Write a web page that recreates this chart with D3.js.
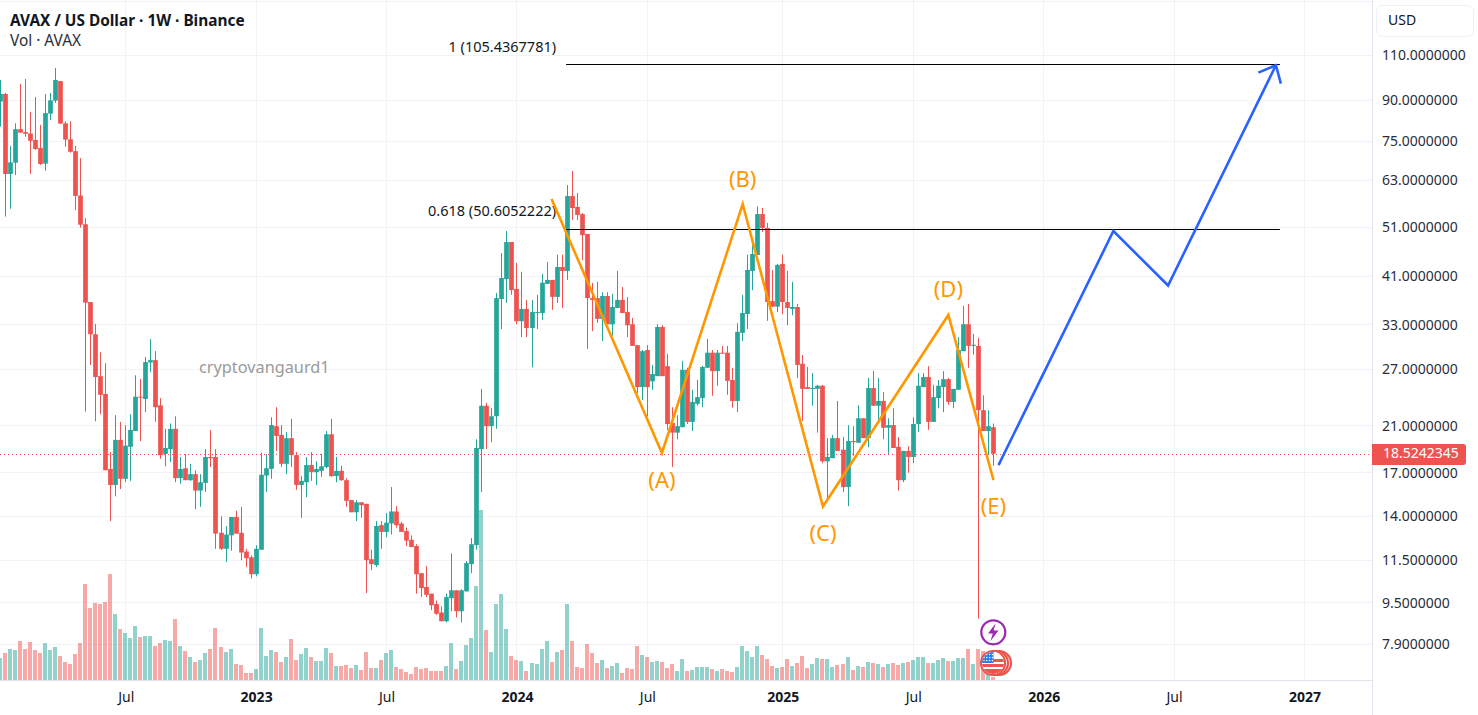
<!DOCTYPE html>
<html><head><meta charset="utf-8">
<script src="https://cdn.jsdelivr.net/npm/d3@7"></script>
<style>
html,body{margin:0;padding:0;background:#fff;overflow:hidden}
svg{display:block;font-family:"Noto Sans",sans-serif}
</style></head><body>
<svg id="c" width="1478" height="715"></svg>
<script>
const opens=[89.5,92.6,64.75,68.1,79.1,78.1,77.6,75.4,72.7,67.8,
84.8,89.9,98.1,81.2,75.6,71.7,58.8,51.7,36.5,31.6,
26.2,24.2,17.3,16.1,19.7,16.55,19.1,20.5,23.9,23.65,
27.85,28.15,23.0,18.5,18.9,20.7,16.6,17.35,16.45,16.9,
15.7,16.25,18.25,18.25,13.0,12.1,12.85,13.95,13.0,11.95,
11.65,10.8,12.05,16.8,17.3,20.95,20.15,17.7,19.85,18.4,
16.1,16.3,17.6,17.05,17.15,17.45,20.2,16.75,17.15,16.45,
15.05,14.25,14.9,14.8,11.55,11.25,13.45,13.05,13.55,14.3,
13.55,13.1,12.6,12.25,10.85,10.2,9.9,9.45,9.1,8.75,
9.7,10.05,9.15,10.0,11.3,12.3,18.9,22.95,20.95,21.9,
37.0,40.45,47.75,38.7,33.5,35.4,32.5,34.75,34.75,39.6,
40.3,37.35,42.7,41.95,58.65,55.85,54.1,49.5,37.15,37.15,
33.85,37.5,33.05,35.55,36.85,34.9,33.05,30.1,24.95,29.45,
25.6,26.2,32.65,27.4,21.25,20.35,20.85,26.95,21.35,23.15,
23.75,27.2,29.1,26.8,29.1,29.1,25.75,23.45,31.8,34.6,
41.95,45.05,54.1,50.85,36.65,35.75,43.3,36.5,35.4,35.7,
27.7,24.95,24.75,24.75,25.1,17.9,18.15,19.85,18.85,15.95,
19.6,19.45,21.7,19.85,24.85,22.95,23.45,20.8,21.05,19.1,
16.45,18.75,18.25,21.15,24.95,26.1,21.35,23.75,24.95,25.85,
23.35,24.65,29.3,33.05,30.0,30.0,22.5,20.5,20.85];
const closes=[92.6,64.75,68.2,79.1,77.9,77.5,75.1,72.4,67.7,85.0,
90.0,98.6,81.1,75.5,71.5,58.7,51.6,36.4,31.6,26.1,
24.1,17.2,16.1,19.7,16.55,19.2,20.6,23.9,23.8,27.9,
28.15,22.8,18.4,19.0,20.7,16.6,17.3,16.45,16.9,15.7,
16.3,18.25,18.15,12.95,12.1,12.9,13.95,12.95,11.9,11.6,
10.8,12.1,16.85,17.35,21.05,20.05,17.7,19.85,18.4,16.1,
16.4,17.6,17.05,17.3,17.5,20.2,16.75,17.15,16.45,15.0,
14.25,14.9,14.7,11.5,11.3,13.4,13.05,13.6,14.3,13.45,
13.05,12.55,12.2,10.8,10.15,9.85,9.4,9.05,8.75,9.75,
10.05,9.15,10.05,11.35,12.35,19.0,22.95,20.95,21.9,37.15,
40.65,47.75,38.5,33.5,35.4,32.5,34.9,34.9,39.8,40.3,
37.35,42.7,41.95,58.65,55.6,53.9,49.25,37.15,36.85,33.85,
37.5,33.05,35.7,36.85,34.75,32.9,30.0,24.95,29.3,24.95,
26.45,32.65,26.2,21.15,20.35,20.95,26.95,21.35,23.35,23.85,
27.3,29.1,26.8,29.1,29.0,25.65,23.45,31.95,34.75,42.15,
45.25,54.1,50.85,36.5,35.75,43.1,36.5,35.55,35.7,27.55,
24.75,24.75,24.85,25.1,17.9,18.25,19.85,18.75,15.95,19.6,
19.5,21.7,19.85,24.85,22.95,23.45,20.8,21.05,19.0,16.45,
18.75,18.25,21.15,25.1,26.1,21.35,23.85,25.1,25.85,23.35,
24.75,29.45,33.05,30.0,30.15,22.5,20.5,20.95,18.5242345];
const highs=[98.6,93.0,73.4,81.2,96.8,99.0,85.5,91.4,80.6,92.6,
93.0,104.0,98.1,81.95,81.9,73.4,69.5,53.1,36.5,33.1,
29.15,27.75,18.66,22.0,21.35,21.05,22.1,26.3,25.85,28.55,
30.9,29.3,23.75,20.7,21.2,21.9,18.25,18.5,17.7,17.2,
16.9,18.9,20.6,18.9,14.0,13.4,13.95,14.35,14.6,12.1,
11.75,12.3,18.6,18.5,21.8,22.8,21.05,20.4,21.65,18.65,
16.75,18.25,18.65,17.9,18.5,20.5,21.65,18.25,17.55,16.6,
15.05,15.05,14.9,14.8,12.05,13.7,13.7,14.2,15.95,14.65,
13.65,13.3,12.85,12.35,10.85,11.2,9.9,9.6,9.35,9.9,
11.85,10.05,10.1,11.45,12.7,19.75,24.75,23.25,22.7,38.0,
45.45,50.15,47.75,43.45,41.8,36.85,36.85,37.7,41.4,43.65,
40.3,45.1,45.1,61.6,65.6,59.45,54.35,49.5,39.75,39.95,
38.15,38.15,37.85,41.95,39.05,37.35,34.0,30.1,29.45,30.1,
27.55,33.05,32.9,28.95,22.8,22.0,28.05,27.2,24.65,25.75,
27.45,30.95,29.45,29.45,30.0,30.0,27.2,33.2,37.7,45.1,
48.2,56.0,55.6,52.0,42.15,43.3,45.1,41.95,39.95,36.2,
28.8,27.3,26.55,25.2,25.2,19.85,20.15,23.45,19.95,21.05,
20.95,23.0,21.7,26.0,26.85,26.0,24.4,21.7,22.7,19.95,
18.75,19.15,21.8,26.55,26.55,27.4,25.2,25.75,26.8,26.0,
24.75,31.2,35.9,36.2,31.65,31.1,24.05,22.5,21.2];
const lows=[80.0,53.5,55.4,64.4,77.8,76.5,64.75,72.1,67.4,65.7,
82.4,89.0,81.1,73.1,71.2,55.1,50.9,22.35,27.55,21.4,
22.1,17.2,13.7,15.3,15.8,16.3,16.4,20.5,19.6,22.3,
26.7,21.35,18.1,17.5,17.85,16.3,16.2,16.45,16.4,14.45,
14.6,15.6,17.45,12.1,12.04,11.4,12.0,12.95,11.5,11.15,
10.6,10.7,12.05,15.6,16.55,18.75,17.45,16.9,17.45,15.75,
13.9,15.25,16.4,16.1,16.7,17.35,16.7,16.3,16.4,14.6,
14.25,13.7,13.9,9.93,11.0,11.15,12.1,12.75,12.9,13.3,
13.05,12.25,12.2,9.9,9.75,9.75,9.2,9.0,8.75,8.7,
9.15,8.9,8.7,10.0,10.85,12.05,15.6,18.9,19.5,20.7,
32.35,36.35,37.7,33.05,31.2,31.2,27.25,32.35,33.7,39.6,
35.25,36.35,35.55,40.3,52.7,52.7,44.05,29.6,32.05,33.25,
30.65,33.05,31.4,35.55,34.75,31.2,30.0,24.3,23.55,21.9,
24.65,26.2,26.2,20.6,17.45,19.75,20.85,21.15,20.5,22.95,
22.8,27.2,24.0,25.1,29.0,24.1,22.75,22.3,30.65,32.35,
38.5,45.05,49.95,33.55,35.75,34.9,34.6,32.9,34.4,25.95,
21.45,24.75,22.95,20.35,17.75,15.05,18.15,18.75,15.6,14.65,
18.35,19.45,19.85,19.05,22.95,21.55,19.75,18.5,19.0,15.7,
16.3,17.0,17.75,20.4,24.95,20.6,21.35,22.7,22.3,23.05,
22.7,24.65,29.3,27.2,28.85,8.85,20.5,18.4,17.55];
const volumes=[2.2,2.7,3.1,3.0,3.9,3.1,3.8,3.0,2.7,3.7,
3.0,3.3,2.4,1.8,1.6,2.6,3.7,9.6,7.2,7.7,
7.6,7.8,10.6,6.6,5.1,4.7,4.2,5.4,4.3,4.4,
4.4,3.4,3.7,4.0,3.9,6.1,3.4,2.9,2.3,1.8,
2.0,2.7,3.1,5.2,3.3,2.8,3.1,1.6,1.5,0.7,
0.7,1.1,5.2,2.4,3.0,2.8,1.8,2.3,4.1,2.0,
2.6,3.2,2.3,1.9,1.9,3.2,2.7,1.4,1.4,1.5,
1.2,1.5,1.0,2.8,1.2,1.2,2.0,2.7,3.0,1.3,
1.1,0.8,0.6,1.3,1.1,1.2,0.9,0.9,0.9,1.4,
3.7,1.1,1.9,3.5,4.2,9.4,17.0,5.0,2.8,7.6,
8.6,5.1,2.4,2.0,1.9,0.9,1.7,1.6,3.1,3.9,
1.8,2.8,3.0,7.6,3.9,1.3,1.2,3.6,2.7,1.7,
2.0,1.2,1.4,1.7,0.7,1.2,1.1,3.4,2.5,2.3,
1.8,1.9,1.8,1.2,1.6,0.9,2.1,0.9,1.0,1.3,
1.3,1.3,1.1,0.9,1.1,0.9,0.8,1.3,3.4,2.9,
2.3,3.4,2.5,2.1,1.4,1.2,1.3,2.1,1.4,1.7,
2.4,1.2,1.6,2.2,2.1,2.1,1.3,1.5,1.6,2.3,
1.0,1.4,1.3,1.8,1.7,1.6,1.3,1.6,1.7,1.5,
1.7,1.8,2.0,2.3,2.3,1.7,1.7,2.0,2.2,1.9,
1.9,2.2,2.2,3.1,1.6,3.1,2.9,0.7,0.3];
const priceTicks=[110,90,75,63,51,41,33,27,21,17,14,11.5,9.5,7.9];
const timeTickWeeks=[25,51,77,103,129,156,182,208,234,260];
const timeTickLabels=["Jul","2023","Jul","2024","Jul","2025","Jul","2026","Jul","2027"];
const lastPrice=18.5242345;
const fibLevels=[1,0.618];
const fibPrices=[105.4367781,50.6052222];
const fibSpanWeeks=[112.8,255.1];
const waveWeeks=[109.9,131.9,148.0,164.0,189.0,198.0];
const wavePrices=[57.9,18.58,56.6,14.62,34.45,16.45];
const waveLabels=["","(A)","(B)","(C)","(D)","(E)"];
const projWeeks=[199.0,221.9,232.8,254.3];
const projPrices=[17.6,50.15,39.3,105.3];

const W=1478,H=715,plotR=1372,volBase=680;
const svg=d3.select("#c");
const x=d3.scaleLinear().domain([0,260]).range([0.3,1304.5]);
const y=d3.scaleLog().domain([7.9,110]).range([644.1,55.5]);
const yVol=d3.scaleLinear().domain([0,17]).range([volBase,510]);
const GREEN="#26a69a",RED="#ef5350",ORANGE="#ff9800",BLUE="#2962ff",GRID="#f2f3f6",INK="#131722";
const px=v=>Math.floor(v)+0.5;

const defs=svg.append("defs");
defs.append("clipPath").attr("id","plot").append("rect").attr("width",plotR).attr("height",volBase);
defs.append("clipPath").attr("id","flagclip").append("circle").attr("cx",993).attr("cy",663).attr("r",11);

// grid
const grid=svg.append("g");
grid.selectAll("line.v").data(timeTickWeeks).join("line").attr("class","v")
 .attr("x1",d=>x(d)).attr("x2",d=>x(d)).attr("y1",0).attr("y2",volBase)
 .attr("stroke",GRID).attr("stroke-width",1).attr("shape-rendering","crispEdges");
grid.selectAll("line.h").data(priceTicks).join("line").attr("class","h")
 .attr("x1",0).attr("x2",plotR).attr("y1",d=>y(d)).attr("y2",d=>y(d))
 .attr("stroke",GRID).attr("stroke-width",1).attr("shape-rendering","crispEdges");
grid.append("line").attr("x1",0).attr("x2",plotR).attr("y1",1.5).attr("y2",1.5).attr("stroke",GRID);

// data
const rows=opens.map((o,i)=>({i,o,h:highs[i],l:lows[i],c:closes[i],v:volumes[i],up:closes[i]>=o}));
const plot=svg.append("g").attr("clip-path","url(#plot)");
plot.append("g").selectAll("rect").data(rows).join("rect")
 .attr("x",d=>Math.floor(x(d.i))-2).attr("width",4)
 .attr("y",d=>yVol(d.v)).attr("height",d=>volBase-yVol(d.v))
 .attr("fill",d=>d.up?GREEN:RED).attr("fill-opacity",0.5)
 .attr("shape-rendering","crispEdges");
plot.append("line").attr("x1",0).attr("x2",plotR).attr("y1",Math.round(y(lastPrice))+0.5).attr("y2",Math.round(y(lastPrice))+0.5)
 .attr("stroke",RED).attr("stroke-width",1).attr("stroke-dasharray","1 3");
plot.append("g").selectAll("line").data(rows).join("line")
 .attr("x1",d=>px(x(d.i))).attr("x2",d=>px(x(d.i))).attr("y1",d=>y(d.h)).attr("y2",d=>y(d.l))
 .attr("stroke",d=>d.up?GREEN:RED).attr("stroke-width",1);
plot.append("g").selectAll("rect").data(rows).join("rect")
 .attr("x",d=>px(x(d.i))-2.35).attr("width",4.7)
 .attr("y",d=>y(Math.max(d.o,d.c))).attr("height",d=>Math.max(1,Math.abs(y(d.o)-y(d.c))))
 .attr("fill",d=>d.up?GREEN:RED);

// fib
fibPrices.forEach((p,i)=>{
 svg.append("line").attr("x1",x(fibSpanWeeks[0])).attr("x2",x(fibSpanWeeks[1]))
  .attr("y1",px(y(p))).attr("y2",px(y(p))).attr("stroke","#000").attr("stroke-width",1);
 svg.append("text").attr("x",x(fibSpanWeeks[0])-10).attr("y",y(p)-16.5).attr("text-anchor","end")
  .attr("font-size",14.5).attr("fill",INK).attr("dominant-baseline","middle")
  .text(`${fibLevels[i]} (${p.toFixed(7)})`);
});

// wave and projection
const line=d3.line();
svg.append("path").attr("d",line(waveWeeks.map((w,i)=>[x(w),y(wavePrices[i])])))
 .attr("fill","none").attr("stroke",ORANGE).attr("stroke-width",2.6).attr("stroke-linejoin","miter");
const labelOffset=[0,29,-23,29,-24,28];
svg.append("g").selectAll("text").data(waveLabels.map((t,i)=>({t,i})).filter(d=>d.t)).join("text")
 .attr("x",d=>x(waveWeeks[d.i])).attr("y",d=>y(wavePrices[d.i])+labelOffset[d.i])
 .attr("text-anchor","middle").attr("dominant-baseline","middle")
 .attr("font-size",22).attr("fill",ORANGE).text(d=>d.t);
const pts=projWeeks.map((w,i)=>[x(w),y(projPrices[i])]);
svg.append("path").attr("d",line(pts)).attr("fill","none").attr("stroke",BLUE).attr("stroke-width",2.6);
const tip=pts[pts.length-1],prev=pts[pts.length-2];
const ang=Math.atan2(prev[1]-tip[1],prev[0]-tip[0]);
const head=a=>[tip[0]+19*Math.cos(ang+a),tip[1]+19*Math.sin(ang+a)];
svg.append("path").attr("d",line([head(0.72),tip,head(-0.72)]))
 .attr("fill","none").attr("stroke",BLUE).attr("stroke-width",2.6);

// watermark
svg.append("text").attr("x",199).attr("y",369).attr("dominant-baseline","middle")
 .attr("font-size",16.3).attr("fill","#9a9a9a").text("cryptovangaurd1");

// title
svg.append("text").attr("x",10).attr("y",22).attr("dominant-baseline","middle")
 .attr("font-size",15.4).attr("font-weight",700).attr("fill",INK).text("AVAX / US Dollar · 1W · Binance");
svg.append("text").attr("x",10).attr("y",42).attr("dominant-baseline","middle")
 .attr("font-size",15.4).attr("fill","#2a2e39").text("Vol · AVAX");

// icons
const ic=svg.append("g");
ic.append("circle").attr("cx",993.3).attr("cy",632.3).attr("r",12).attr("fill","#fff").attr("stroke","#9c27b0").attr("stroke-width",2.2);
ic.append("path").attr("d","M995.5,623.5 L988,633.5 H992.8 L990.5,641 L998.5,630.5 H993.6 Z").attr("fill","#9c27b0");
[999,996].forEach(cx=>ic.append("circle").attr("cx",cx).attr("cy",663).attr("r",12).attr("fill","#fff").attr("stroke",RED).attr("stroke-width",2.2));
ic.append("circle").attr("cx",993).attr("cy",663).attr("r",12).attr("fill","#fff").attr("stroke",RED).attr("stroke-width",2.2);
const fl=ic.append("g").attr("clip-path","url(#flagclip)");
fl.append("rect").attr("x",982).attr("y",652).attr("width",22).attr("height",22).attr("fill","#fff");
[[659,3],[664,3],[669,5]].forEach(s=>fl.append("rect").attr("x",982).attr("y",s[0]).attr("width",22).attr("height",s[1]).attr("fill",RED));
fl.append("rect").attr("x",982).attr("y",652).attr("width",11.5).attr("height",11).attr("fill","#2f7de1");
d3.range(3).forEach(r=>d3.range(4).forEach(c=>fl.append("circle").attr("cx",984+c*2.8).attr("cy",654.5+r*3).attr("r",0.7).attr("fill","#fff")));

// axes
svg.append("line").attr("x1",0).attr("x2",plotR).attr("y1",volBase+0.5).attr("y2",volBase+0.5).attr("stroke","#e0e3eb").attr("stroke-width",1);
svg.append("line").attr("x1",plotR+0.5).attr("x2",plotR+0.5).attr("y1",0).attr("y2",H).attr("stroke","#e0e3eb").attr("stroke-width",1);
const yAxis=svg.append("g").attr("transform",`translate(${plotR},0)`)
 .call(d3.axisRight(y).tickValues(priceTicks).tickFormat(d3.format(".7f")).tickSize(0).tickPadding(10));
yAxis.select(".domain").remove();
yAxis.selectAll("text").attr("font-size",14).attr("fill","#2a2e39").style("font-family",'"Noto Sans",sans-serif');
const xAxis=svg.append("g").attr("transform",`translate(0,${volBase})`)
 .call(d3.axisBottom(x).tickValues(timeTickWeeks).tickFormat((d,i)=>timeTickLabels[i]).tickSize(0).tickPadding(12));
xAxis.select(".domain").remove();
xAxis.selectAll("text").attr("font-size",14).attr("fill",INK).style("font-family",'"Noto Sans",sans-serif')
 .attr("font-weight",(d,i)=>/^20/.test(timeTickLabels[i])?700:400);

// USD button, last price label
svg.append("rect").attr("x",1376.5).attr("y",5.5).attr("width",97).attr("height",31).attr("rx",6)
 .attr("fill","#fff").attr("stroke","#eef0f4");
svg.append("text").attr("x",1388).attr("y",21).attr("dominant-baseline","middle").attr("font-size",14).attr("fill",INK).text("USD");
svg.append("path").attr("d","M1372,444H1463a3,3 0 0 1 3,3V462a3,3 0 0 1 -3,3H1372Z").attr("fill",RED);
svg.append("text").attr("x",1383).attr("y",y(lastPrice)+0.5).attr("dominant-baseline","middle").attr("font-size",14)
 .attr("fill","#fff").text(lastPrice.toFixed(7));
</script>
</body></html>
